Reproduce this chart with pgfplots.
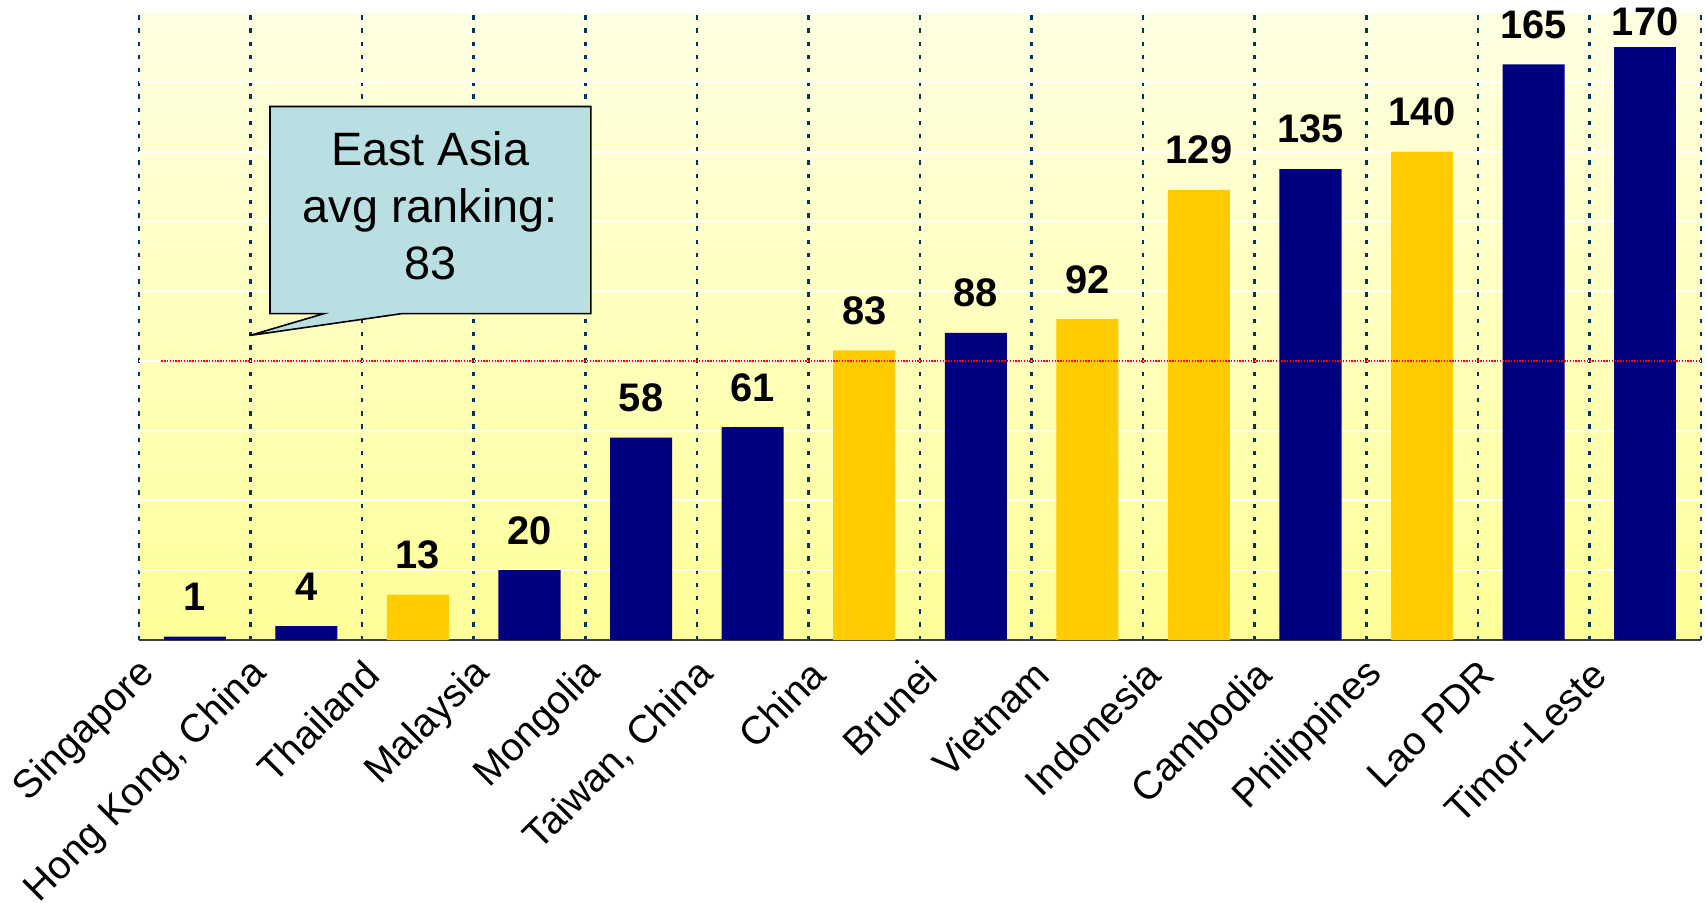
\documentclass[border=0pt]{standalone}
\usepackage{pgfplots}
\pgfplotsset{compat=1.18}
\usepackage{fontspec}
\setmainfont{Liberation Sans}
\definecolor{navybar}{RGB}{0,0,128}
\definecolor{goldbar}{RGB}{255,204,0}
\definecolor{gridnavy}{RGB}{0,51,102}
\definecolor{calloutblue}{RGB}{185,223,226}
\definecolor{bgtop}{RGB}{255,255,226}
\definecolor{bgbot}{RGB}{255,255,153}
\begin{document}
\begin{tikzpicture}
\begin{axis}[
  scale only axis, width=781bp, height=314bp,
  xmin=-0.5, xmax=13.5, ymin=0, ymax=180,
  ybar, bar width=0.556, bar shift=0pt,
  axis x line*=bottom, axis y line*=left,
  x axis line style={draw=black!75, line width=1.2bp},
  y axis line style={draw=none},
  xtick={0,...,13},
  xticklabels={Singapore,{Hong Kong, China},Thailand,Malaysia,Mongolia,{Taiwan, China},China,Brunei,Vietnam,Indonesia,Cambodia,Philippines,Lao PDR,Timor-Leste},
  xticklabel style={font=\fontsize{19.8}{24}\selectfont, xshift=-20.5bp, yshift=-11.5bp, rotate=45, anchor=east},
  ytick={0,20,...,180}, yticklabels={},
  minor xtick={-0.5,0.5,...,13.5},
  xminorgrids, ymajorgrids,
  major grid style={white, line width=1bp},
  minor grid style={gridnavy, line width=1.3bp, dash pattern=on 2.2bp off 4.4bp},
  major tick length=0pt, minor tick length=0pt,
  axis background/.style={top color=bgtop, bottom color=bgbot},
  /pgf/number format/assume math mode=true,
  clip=false,
]
\addplot[fill=navybar, draw=none, nodes near coords,
  every node near coord/.append style={font=\bfseries\fontsize{20}{22}\selectfont, anchor=base, yshift=13bp, black}]
  coordinates {(0,1) (1,4) (3,20) (4,58) (5,61) (7,88) (10,135) (12,165)};
\addplot[fill=navybar, draw=none, nodes near coords,
  every node near coord/.append style={font=\bfseries\fontsize{20}{22}\selectfont, anchor=base, yshift=5.5bp, black}]
  coordinates {(13,170)};
\addplot[fill=goldbar, draw=none, nodes near coords,
  every node near coord/.append style={font=\bfseries\fontsize{20}{22}\selectfont, anchor=base, yshift=13bp, black}]
  coordinates {(2,13) (6,83) (8,92) (9,129) (11,140)};
\addplot[sharp plot, red, line width=0.7bp, dash pattern=on 0.7bp off 0.7bp]
  coordinates {(-0.3,80) (13.5,80)};
\draw[fill=calloutblue, draw=black, line width=0.8bp]
  (axis cs:0.674,152.9) -- (axis cs:3.55,152.9) -- (axis cs:3.55,93.55)
  -- (axis cs:1.857,93.55) -- (axis cs:0.495,87.3) -- (axis cs:1.158,93.55)
  -- (axis cs:0.674,93.55) -- cycle;
\node[align=center, font=\fontsize{23.5}{28.7}\selectfont] at (axis cs:2.11,124.5) {East Asia\\avg ranking:\\83};
\end{axis}
\pgfresetboundingbox
\path[use as bounding box] ([xshift=-69.5bp,yshift=-131.5bp]current axis.south west) rectangle ([xshift=783.5bp,yshift=320bp]current axis.south west);
\end{tikzpicture}
\end{document}
